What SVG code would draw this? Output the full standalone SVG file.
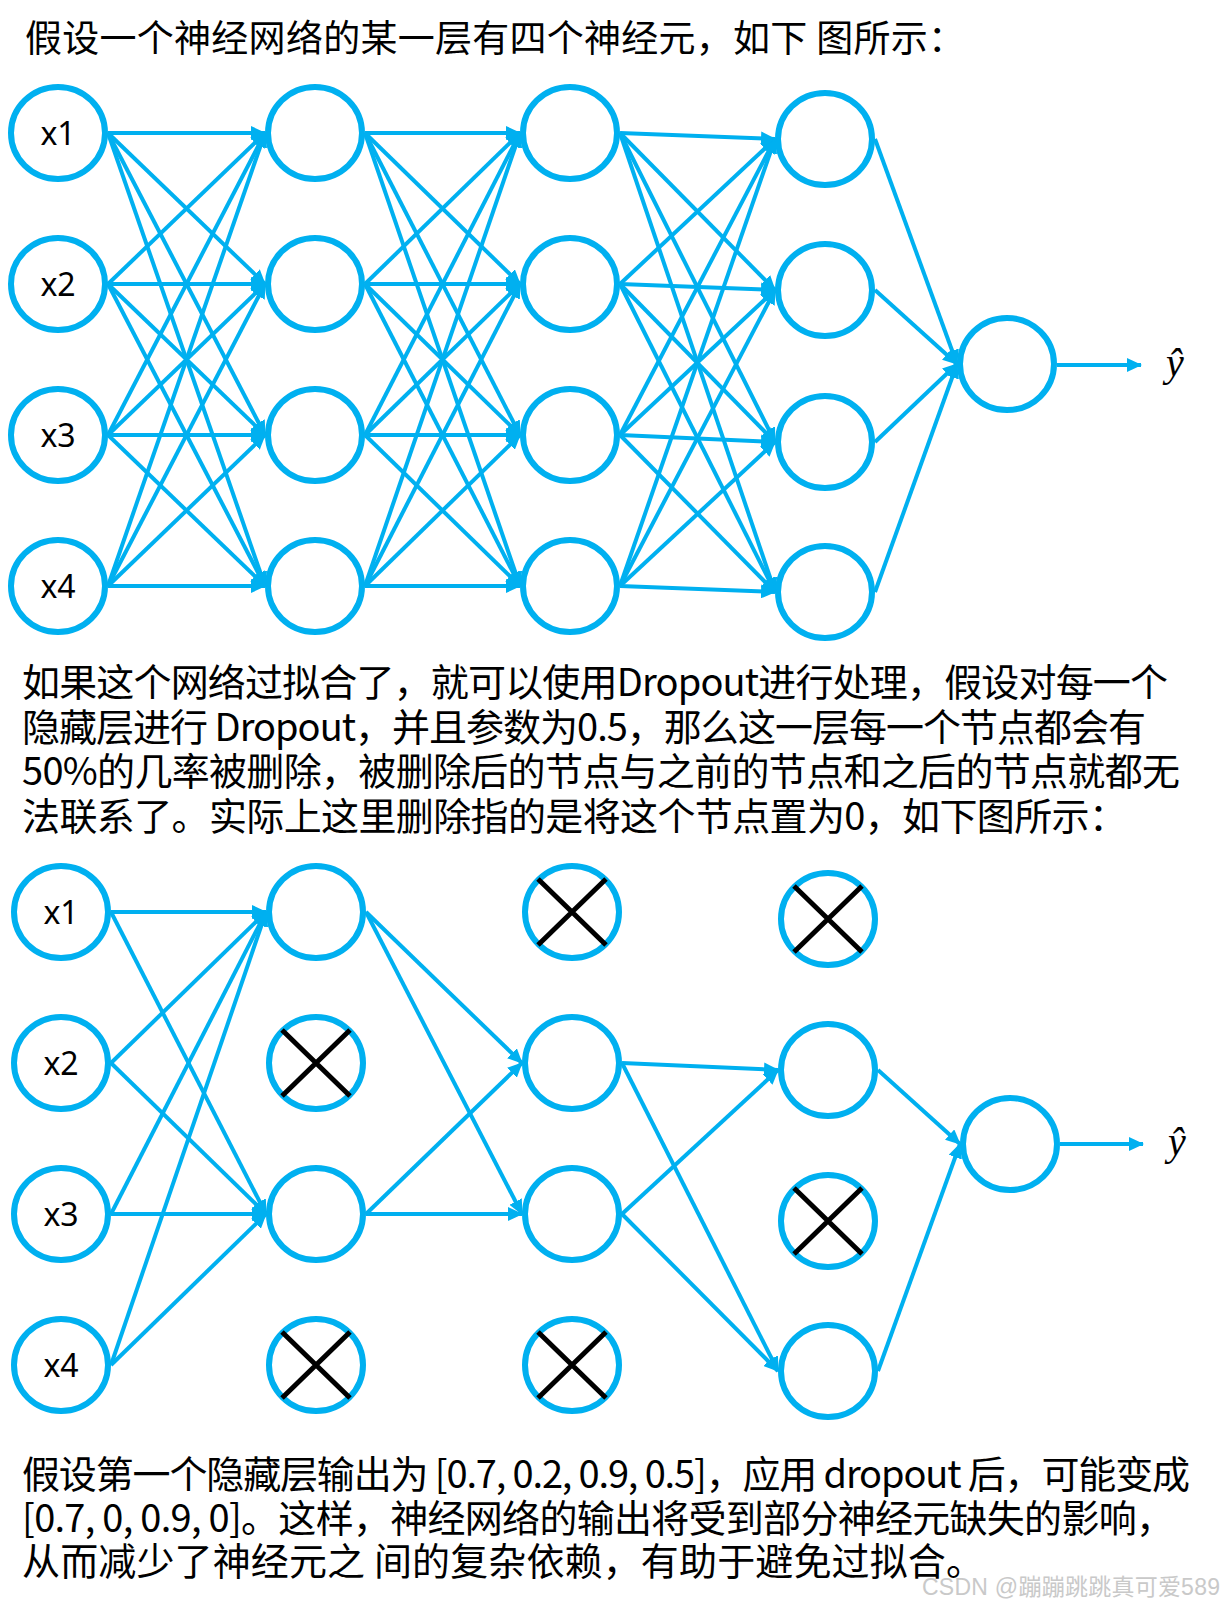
<svg xmlns="http://www.w3.org/2000/svg" width="1224" height="1607" viewBox="0 0 1224 1607">
<style>
.n{fill:#fff;stroke:#00B0F0;stroke-width:6}
.e{stroke:#00B0F0;stroke-width:4;fill:none;marker-end:url(#ah)}
.x{stroke:#000;stroke-width:5}
.lb{font-family:"Noto Sans","Open Sans",sans-serif;font-size:32px;fill:#000;text-anchor:middle}
.t{font-family:"Noto Sans CJK SC","Noto Sans",sans-serif;font-size:38px;fill:#000}
.yh{font-family:"Liberation Serif",serif;font-style:italic;font-size:40px;fill:#000;text-anchor:middle}
</style>
<defs>
<marker id="ah" markerWidth="15" markerHeight="14" refX="14" refY="7" orient="auto" markerUnits="userSpaceOnUse"><path d="M0,0 L15,7 L0,14 z" fill="#00B0F0"/></marker>
</defs>
<text class="t" x="25" y="52" style="font-size:37px" textLength="940">假设一个神经网络的某一层有四个神经元，如下 图所示：</text>
<g id="connectors-top">
<line class="e" x1="108" y1="133" x2="265" y2="133"/><line class="e" x1="108" y1="133" x2="265" y2="284"/><line class="e" x1="108" y1="133" x2="265" y2="435"/><line class="e" x1="108" y1="133" x2="265" y2="586"/>
<line class="e" x1="108" y1="284" x2="265" y2="133"/><line class="e" x1="108" y1="284" x2="265" y2="284"/><line class="e" x1="108" y1="284" x2="265" y2="435"/><line class="e" x1="108" y1="284" x2="265" y2="586"/>
<line class="e" x1="108" y1="435" x2="265" y2="133"/><line class="e" x1="108" y1="435" x2="265" y2="284"/><line class="e" x1="108" y1="435" x2="265" y2="435"/><line class="e" x1="108" y1="435" x2="265" y2="586"/>
<line class="e" x1="108" y1="586" x2="265" y2="133"/><line class="e" x1="108" y1="586" x2="265" y2="284"/><line class="e" x1="108" y1="586" x2="265" y2="435"/><line class="e" x1="108" y1="586" x2="265" y2="586"/>
<line class="e" x1="365" y1="133" x2="520" y2="133"/><line class="e" x1="365" y1="133" x2="520" y2="284"/><line class="e" x1="365" y1="133" x2="520" y2="435"/><line class="e" x1="365" y1="133" x2="520" y2="586"/>
<line class="e" x1="365" y1="284" x2="520" y2="133"/><line class="e" x1="365" y1="284" x2="520" y2="284"/><line class="e" x1="365" y1="284" x2="520" y2="435"/><line class="e" x1="365" y1="284" x2="520" y2="586"/>
<line class="e" x1="365" y1="435" x2="520" y2="133"/><line class="e" x1="365" y1="435" x2="520" y2="284"/><line class="e" x1="365" y1="435" x2="520" y2="435"/><line class="e" x1="365" y1="435" x2="520" y2="586"/>
<line class="e" x1="365" y1="586" x2="520" y2="133"/><line class="e" x1="365" y1="586" x2="520" y2="284"/><line class="e" x1="365" y1="586" x2="520" y2="435"/><line class="e" x1="365" y1="586" x2="520" y2="586"/>
<line class="e" x1="620" y1="133" x2="775" y2="139"/><line class="e" x1="620" y1="133" x2="775" y2="290"/><line class="e" x1="620" y1="133" x2="775" y2="442"/><line class="e" x1="620" y1="133" x2="775" y2="592"/>
<line class="e" x1="620" y1="284" x2="775" y2="139"/><line class="e" x1="620" y1="284" x2="775" y2="290"/><line class="e" x1="620" y1="284" x2="775" y2="442"/><line class="e" x1="620" y1="284" x2="775" y2="592"/>
<line class="e" x1="620" y1="435" x2="775" y2="139"/><line class="e" x1="620" y1="435" x2="775" y2="290"/><line class="e" x1="620" y1="435" x2="775" y2="442"/><line class="e" x1="620" y1="435" x2="775" y2="592"/>
<line class="e" x1="620" y1="586" x2="775" y2="139"/><line class="e" x1="620" y1="586" x2="775" y2="290"/><line class="e" x1="620" y1="586" x2="775" y2="442"/><line class="e" x1="620" y1="586" x2="775" y2="592"/>
<line class="e" x1="875" y1="139" x2="957" y2="364"/><line class="e" x1="875" y1="290" x2="957" y2="364"/><line class="e" x1="875" y1="442" x2="957" y2="364"/><line class="e" x1="875" y1="592" x2="957" y2="364"/>
<line class="e" x1="1057" y1="365" x2="1141" y2="365"/>
</g>
<g id="t-l0-1"><ellipse class="n" cx="58" cy="133" rx="47" ry="46"/><text class="lb" x="58" y="145">x1</text></g>
<g id="t-l0-2"><ellipse class="n" cx="58" cy="284" rx="47" ry="46"/><text class="lb" x="58" y="296">x2</text></g>
<g id="t-l0-3"><ellipse class="n" cx="58" cy="435" rx="47" ry="46"/><text class="lb" x="58" y="447">x3</text></g>
<g id="t-l0-4"><ellipse class="n" cx="58" cy="586" rx="47" ry="46"/><text class="lb" x="58" y="598">x4</text></g>
<g id="t-l1-1"><ellipse class="n" cx="315" cy="133" rx="47" ry="46"/></g>
<g id="t-l1-2"><ellipse class="n" cx="315" cy="284" rx="47" ry="46"/></g>
<g id="t-l1-3"><ellipse class="n" cx="315" cy="435" rx="47" ry="46"/></g>
<g id="t-l1-4"><ellipse class="n" cx="315" cy="586" rx="47" ry="46"/></g>
<g id="t-l2-1"><ellipse class="n" cx="570" cy="133" rx="47" ry="46"/></g>
<g id="t-l2-2"><ellipse class="n" cx="570" cy="284" rx="47" ry="46"/></g>
<g id="t-l2-3"><ellipse class="n" cx="570" cy="435" rx="47" ry="46"/></g>
<g id="t-l2-4"><ellipse class="n" cx="570" cy="586" rx="47" ry="46"/></g>
<g id="t-l3-1"><ellipse class="n" cx="825" cy="139" rx="47" ry="46"/></g>
<g id="t-l3-2"><ellipse class="n" cx="825" cy="290" rx="47" ry="46"/></g>
<g id="t-l3-3"><ellipse class="n" cx="825" cy="442" rx="47" ry="46"/></g>
<g id="t-l3-4"><ellipse class="n" cx="825" cy="592" rx="47" ry="46"/></g>
<g id="t-out"><ellipse class="n" cx="1007" cy="364" rx="47" ry="46"/></g>
<g id="t-yhat"><text class="yh" x="1175" y="376">ŷ</text></g>

<text class="t" x="22" y="696" textLength="1146">如果这个网络过拟合了，就可以使用Dropout进行处理，假设对每一个</text>
<text class="t" x="22" y="741" textLength="1124">隐藏层进行 Dropout，并且参数为0.5，那么这一层每一个节点都会有</text>
<text class="t" x="22" y="785" textLength="1158">50%的几率被删除，被删除后的节点与之前的节点和之后的节点就都无</text>
<text class="t" x="22" y="830" textLength="1105">法联系了。实际上这里删除指的是将这个节点置为0，如下图所示：</text>

<g id="connectors-bottom">
<line class="e" x1="111" y1="912" x2="266" y2="912"/><line class="e" x1="111" y1="912" x2="266" y2="1214"/>
<line class="e" x1="111" y1="1063" x2="266" y2="912"/><line class="e" x1="111" y1="1063" x2="266" y2="1214"/>
<line class="e" x1="111" y1="1214" x2="266" y2="912"/><line class="e" x1="111" y1="1214" x2="266" y2="1214"/>
<line class="e" x1="111" y1="1365" x2="266" y2="912"/><line class="e" x1="111" y1="1365" x2="266" y2="1214"/>
<line class="e" x1="366" y1="912" x2="522" y2="1063"/><line class="e" x1="366" y1="912" x2="522" y2="1214"/>
<line class="e" x1="366" y1="1214" x2="522" y2="1063"/><line class="e" x1="366" y1="1214" x2="522" y2="1214"/>
<line class="e" x1="622" y1="1063" x2="778" y2="1070"/><line class="e" x1="622" y1="1063" x2="778" y2="1371"/>
<line class="e" x1="622" y1="1214" x2="778" y2="1070"/><line class="e" x1="622" y1="1214" x2="778" y2="1371"/>
<line class="e" x1="878" y1="1070" x2="960" y2="1144"/><line class="e" x1="878" y1="1371" x2="960" y2="1144"/>
<line class="e" x1="1060" y1="1144" x2="1143" y2="1144"/>
</g>
<g id="b-l0-1"><ellipse class="n" cx="61" cy="912" rx="47" ry="46"/><text class="lb" x="61" y="924">x1</text></g>
<g id="b-l0-2"><ellipse class="n" cx="61" cy="1063" rx="47" ry="46"/><text class="lb" x="61" y="1075">x2</text></g>
<g id="b-l0-3"><ellipse class="n" cx="61" cy="1214" rx="47" ry="46"/><text class="lb" x="61" y="1226">x3</text></g>
<g id="b-l0-4"><ellipse class="n" cx="61" cy="1365" rx="47" ry="46"/><text class="lb" x="61" y="1377">x4</text></g>
<g id="b-l1-1"><ellipse class="n" cx="316" cy="912" rx="47" ry="46"/></g>
<g id="b-l1-2"><ellipse class="n" cx="316" cy="1063" rx="47" ry="46"/><path class="x" d="M282,1030 L350,1096 M350,1030 L282,1096"/></g>
<g id="b-l1-3"><ellipse class="n" cx="316" cy="1214" rx="47" ry="46"/></g>
<g id="b-l1-4"><ellipse class="n" cx="316" cy="1365" rx="47" ry="46"/><path class="x" d="M282,1332 L350,1398 M350,1332 L282,1398"/></g>
<g id="b-l2-1"><ellipse class="n" cx="572" cy="912" rx="47" ry="46"/><path class="x" d="M538,879 L606,945 M606,879 L538,945"/></g>
<g id="b-l2-2"><ellipse class="n" cx="572" cy="1063" rx="47" ry="46"/></g>
<g id="b-l2-3"><ellipse class="n" cx="572" cy="1214" rx="47" ry="46"/></g>
<g id="b-l2-4"><ellipse class="n" cx="572" cy="1365" rx="47" ry="46"/><path class="x" d="M538,1332 L606,1398 M606,1332 L538,1398"/></g>
<g id="b-l3-1"><ellipse class="n" cx="828" cy="919" rx="47" ry="46"/><path class="x" d="M794,886 L862,952 M862,886 L794,952"/></g>
<g id="b-l3-2"><ellipse class="n" cx="828" cy="1070" rx="47" ry="46"/></g>
<g id="b-l3-3"><ellipse class="n" cx="828" cy="1221" rx="47" ry="46"/><path class="x" d="M794,1188 L862,1254 M862,1188 L794,1254"/></g>
<g id="b-l3-4"><ellipse class="n" cx="828" cy="1371" rx="47" ry="46"/></g>
<g id="b-out"><ellipse class="n" cx="1010" cy="1144" rx="47" ry="46"/></g>
<g id="b-yhat"><text class="yh" x="1177" y="1155">ŷ</text></g>

<text class="t" x="22" y="1488" textLength="1168">假设第一个隐藏层输出为 [0.7, 0.2, 0.9, 0.5]，应用 dropout 后，可能变成</text>
<text class="t" x="22" y="1532" textLength="1152">[0.7, 0, 0.9, 0]。这样，神经网络的输出将受到部分神经元缺失的影响，</text>
<text class="t" x="22" y="1575" textLength="962">从而减少了神经元之 间的复杂依赖，有助于避免过拟合。</text>
<text x="922" y="1595" textLength="298" style="font-family:'Liberation Sans','Noto Sans CJK SC',sans-serif;font-size:23px;fill:#c9c9c9">CSDN @蹦蹦跳跳真可爱589</text>
</svg>
